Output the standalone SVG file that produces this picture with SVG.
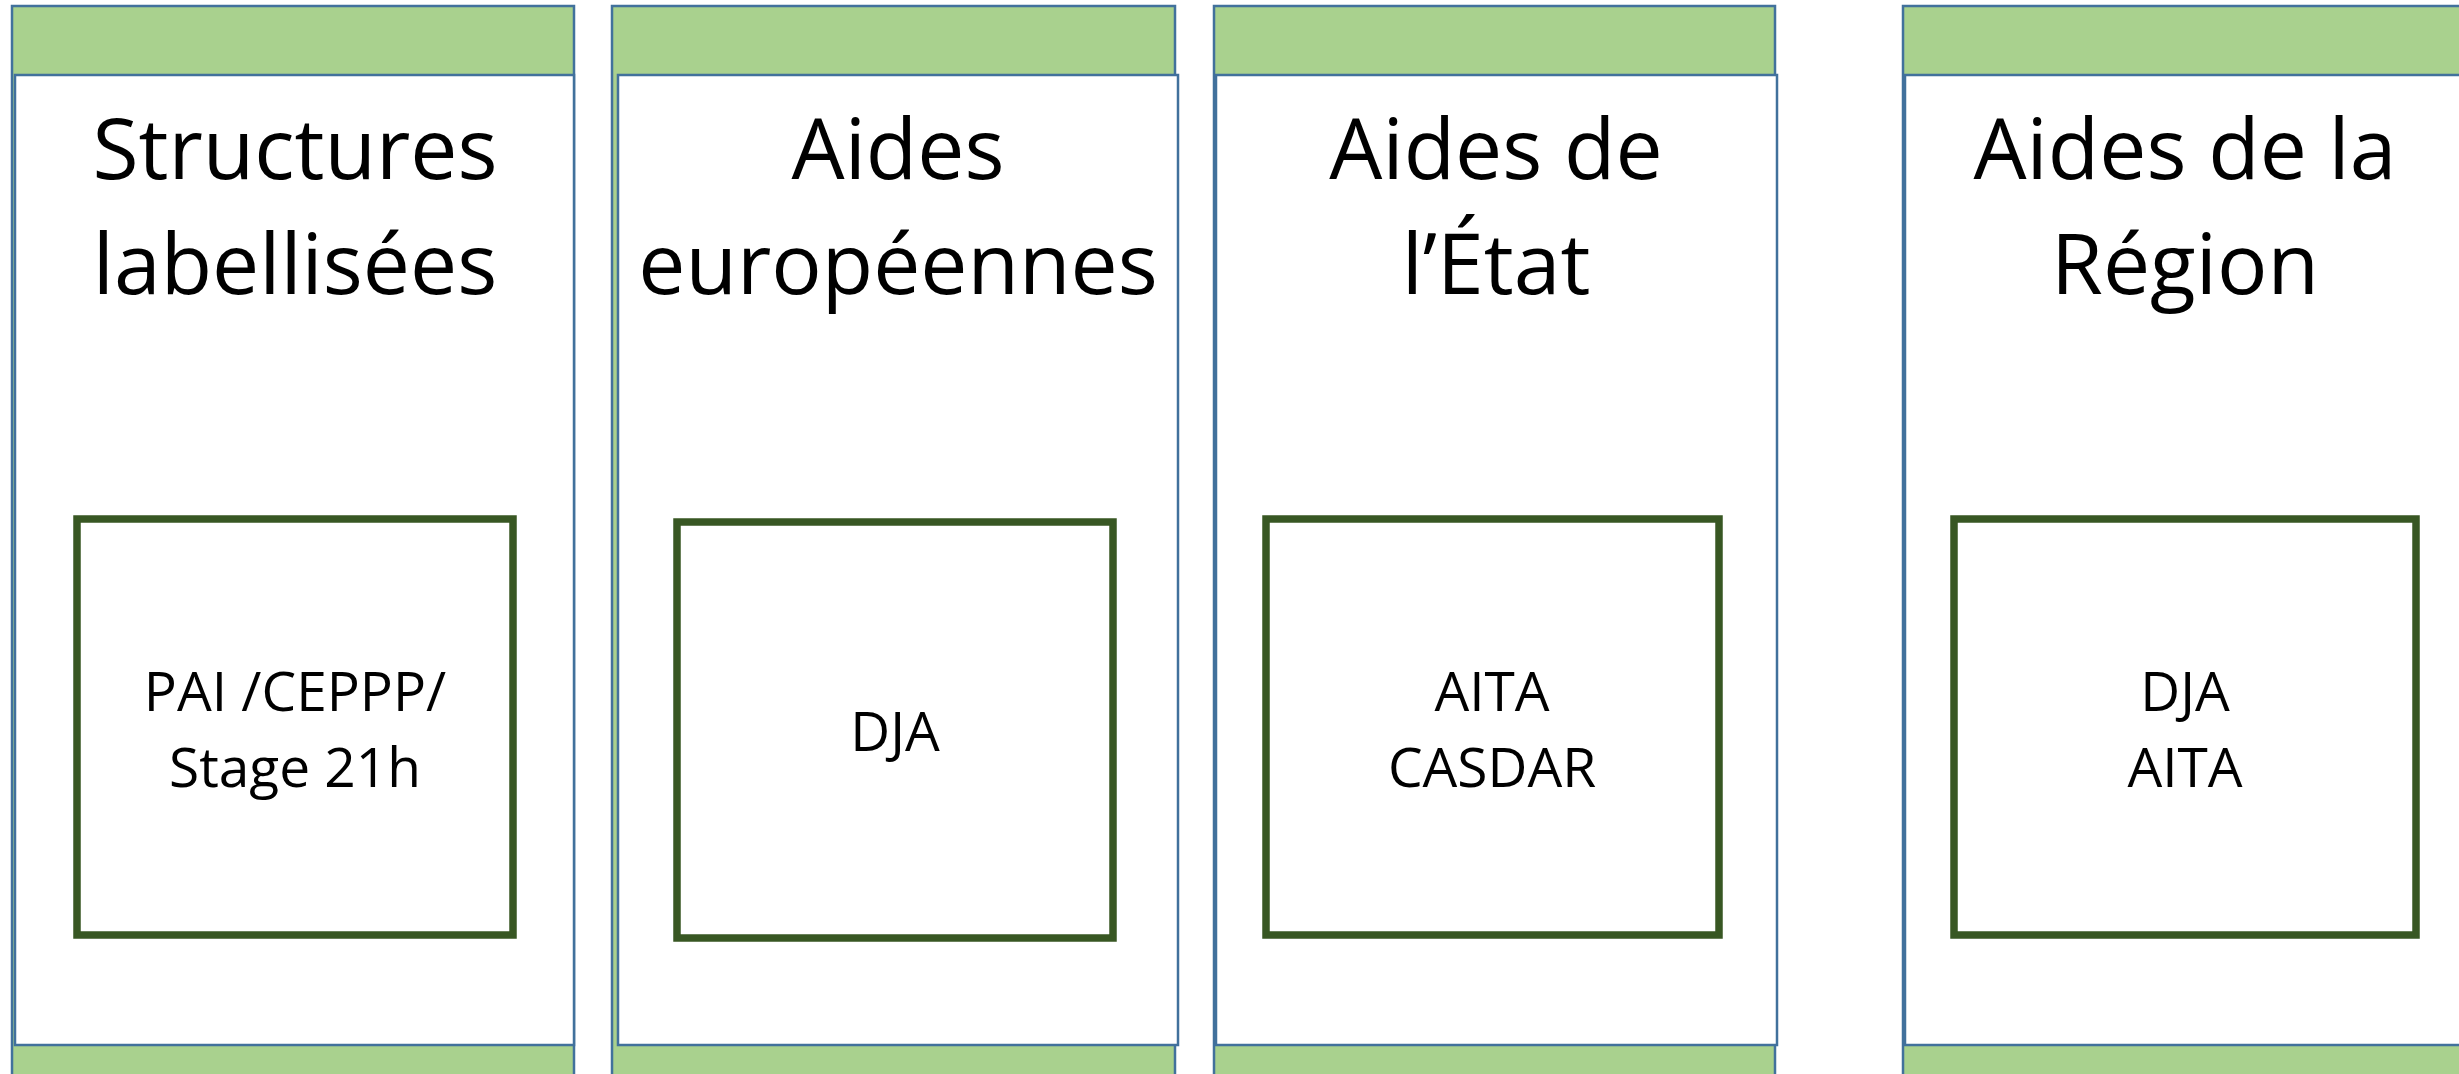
<svg xmlns="http://www.w3.org/2000/svg" width="2459" height="1074" viewBox="0 0 2459 1074">
<style>
.bg{fill:#A9D18E;stroke:#41719C;stroke-width:2.5}
.body{fill:#FFFFFF;stroke:#41719C;stroke-width:2.5}
.inner{fill:#FFFFFF;stroke:#385723;stroke-width:7.5}
.h{font-family:"Open Sans","Noto Sans","Liberation Sans",sans-serif;font-size:84px;fill:#000000;text-anchor:middle}
.s{font-family:"Open Sans","Noto Sans","Liberation Sans",sans-serif;font-size:55px;fill:#000000;text-anchor:middle}
</style>
<rect width="2459" height="1074" fill="#FFFFFF"/>
<g id="col-structures">
<rect class="bg" x="12" y="6" width="562" height="1080"/>
<rect class="body" x="15" y="75" width="559" height="970"/>
<text class="h" x="295" y="179">Structures</text>
<text class="h" x="295" y="294">labellisées</text>
<rect class="inner" x="77" y="519" width="436" height="416"/>
<text class="s" x="295" y="711">PAI /CEPPP/</text>
<text class="s" x="295" y="787">Stage 21h</text>
</g>
<g id="col-europe">
<rect class="bg" x="612" y="6" width="563" height="1080"/>
<rect class="body" x="618" y="75" width="560" height="970"/>
<text class="h" x="898" y="179">Aides</text>
<text class="h" x="898" y="294">européennes</text>
<rect class="inner" x="677" y="522" width="436" height="416"/>
<text class="s" x="895" y="751">DJA</text>
</g>
<g id="col-etat">
<rect class="bg" x="1214" y="6" width="561" height="1080"/>
<rect class="body" x="1216" y="75" width="561" height="970"/>
<text class="h" x="1496" y="179">Aides de</text>
<text class="h" x="1496" y="294">l’État</text>
<rect class="inner" x="1266" y="519" width="453" height="416"/>
<text class="s" x="1492" y="711">AITA</text>
<text class="s" x="1492" y="787">CASDAR</text>
</g>
<g id="col-region">
<rect class="bg" x="1903" y="6" width="570" height="1080"/>
<rect class="body" x="1905" y="75" width="570" height="970"/>
<text class="h" x="2185" y="179">Aides de la</text>
<text class="h" x="2185" y="294">Région</text>
<rect class="inner" x="1954" y="519" width="462" height="416"/>
<text class="s" x="2185" y="711">DJA</text>
<text class="s" x="2185" y="787">AITA</text>
</g>
<g id="connectors"/>
</svg>
